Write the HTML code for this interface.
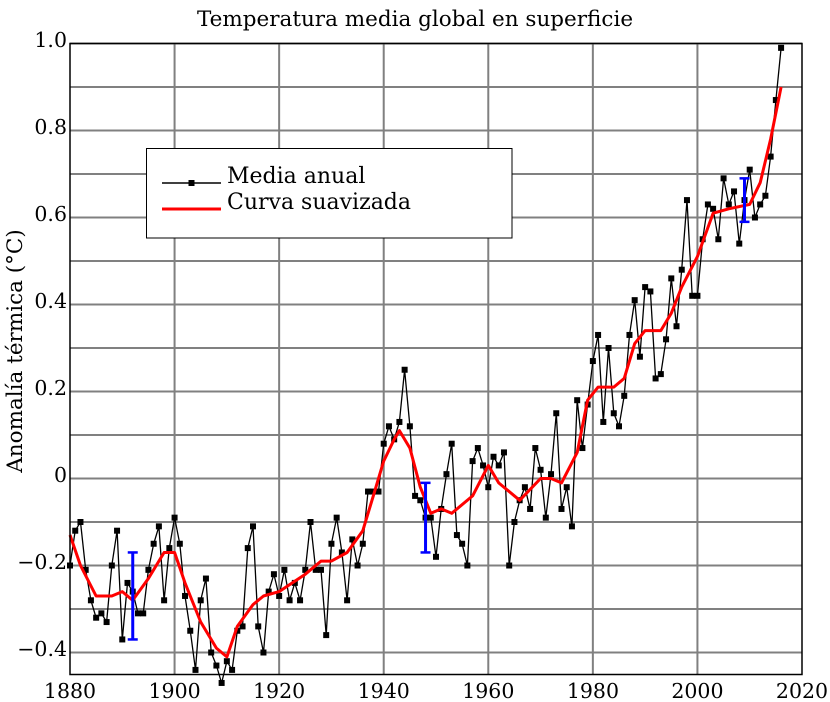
<!DOCTYPE html>
<html><head><meta charset="utf-8"><style>
html,body{margin:0;padding:0;background:#fff;}
svg{display:block;font-family:"DejaVu Serif","Liberation Serif",serif;}
</style></head><body>
<svg id="c" width="830" height="702" xmlns="http://www.w3.org/2000/svg">
<rect width="830" height="702" fill="#fff"/>
<g id="grid" stroke="#808080" stroke-width="2"></g>
<g id="series"></g>
<rect x="70" y="43.5" width="732" height="631" fill="none" stroke="#000" stroke-width="1.5"/>
<text x="415" y="26" font-size="21.5" text-anchor="middle">Temperatura media global en superficie</text>
<g font-size="20.5" text-anchor="end">
<text x="67" y="47">1.0</text>
<text x="67" y="134">0.8</text>
<text x="67" y="221">0.6</text>
<text x="67" y="308">0.4</text>
<text x="67" y="395">0.2</text>
<text x="67" y="482">0</text>
<text x="67" y="569">−0.2</text>
<text x="67" y="656">−0.4</text>
</g>
<g font-size="20.5" text-anchor="middle">
<text x="70" y="698">1880</text>
<text x="174.6" y="698">1900</text>
<text x="279.1" y="698">1920</text>
<text x="383.7" y="698">1940</text>
<text x="488.3" y="698">1960</text>
<text x="592.9" y="698">1980</text>
<text x="697.4" y="698">2000</text>
<text x="802" y="698">2020</text>
</g>
<text transform="translate(22,351) rotate(-90)" font-size="21.5" text-anchor="middle">Anomalía térmica (°C)</text>
<rect x="146.5" y="148.5" width="365.5" height="89.5" fill="#fff" stroke="#000" stroke-width="1"/>
<line x1="162" y1="183" x2="221" y2="183" stroke="#000" stroke-width="1.5"/>
<rect x="188.5" y="180" width="6" height="6" fill="#000"/>
<line x1="162" y1="209" x2="221" y2="209" stroke="#f00" stroke-width="3"/>
<text x="227" y="183" font-size="22">Media anual</text>
<text x="227" y="209" font-size="22">Curva suavizada</text>
</svg>
<script>
var X=function(y){return 70+(y-1880)*732/140;};
var Y=function(v){return 478.5-v*435;};
var ns="http://www.w3.org/2000/svg";
function el(p,t,a){var e=document.createElementNS(ns,t);for(var k in a)e.setAttribute(k,a[k]);p.appendChild(e);return e;}
var g=document.getElementById('grid');
for(var y=1900;y<2020;y+=20)el(g,'line',{x1:X(y),y1:43.5,x2:X(y),y2:674.5});
for(var v=-0.4;v<1.0;v+=0.1){var yy=Y(Math.round(v*10)/10);el(g,'line',{x1:70,y1:yy,x2:802,y2:yy});}
var d=[-0.20,-0.12,-0.10,-0.21,-0.28,-0.32,-0.31,-0.33,-0.20,-0.12,-0.37,-0.24,-0.26,-0.31,-0.31,-0.21,-0.15,-0.11,-0.28,-0.16,-0.09,-0.15,-0.27,-0.35,-0.44,-0.28,-0.23,-0.40,-0.43,-0.47,-0.42,-0.44,-0.35,-0.34,-0.16,-0.11,-0.34,-0.40,-0.26,-0.22,-0.27,-0.21,-0.28,-0.24,-0.28,-0.21,-0.10,-0.21,-0.21,-0.36,-0.15,-0.09,-0.17,-0.28,-0.14,-0.20,-0.15,-0.03,-0.03,-0.03,0.08,0.12,0.09,0.13,0.25,0.12,-0.04,-0.05,-0.09,-0.09,-0.18,-0.07,0.01,0.08,-0.13,-0.15,-0.20,0.04,0.07,0.03,-0.02,0.05,0.03,0.06,-0.20,-0.10,-0.05,-0.02,-0.07,0.07,0.02,-0.09,0.01,0.15,-0.07,-0.02,-0.11,0.18,0.07,0.17,0.27,0.33,0.13,0.30,0.15,0.12,0.19,0.33,0.41,0.28,0.44,0.43,0.23,0.24,0.32,0.46,0.35,0.48,0.64,0.42,0.42,0.55,0.63,0.62,0.55,0.69,0.63,0.66,0.54,0.64,0.71,0.60,0.63,0.65,0.74,0.87,0.99];
var s=document.getElementById('series');
var sm=[[1880,-0.13],[1882,-0.2],[1885,-0.27],[1888,-0.27],[1890,-0.26],[1892,-0.28],[1895,-0.23],[1898,-0.17],[1900,-0.17],[1902,-0.24],[1905,-0.33],[1908,-0.39],[1910,-0.41],[1912,-0.34],[1915,-0.29],[1917,-0.27],[1920,-0.26],[1925,-0.22],[1928,-0.19],[1930,-0.19],[1933,-0.17],[1936,-0.12],[1938,-0.04],[1940,0.04],[1942,0.09],[1943,0.11],[1945,0.07],[1947,-0.02],[1949,-0.08],[1951,-0.07],[1953,-0.08],[1957,-0.04],[1960,0.03],[1962,-0.01],[1966,-0.05],[1970,0.0],[1972,0.0],[1974,-0.01],[1977,0.06],[1979,0.18],[1981,0.21],[1984,0.21],[1986,0.23],[1988,0.31],[1990,0.34],[1993,0.34],[1995,0.38],[1997,0.44],[2000,0.51],[2003,0.61],[2006,0.62],[2010,0.63],[2012,0.68],[2014,0.78],[2016,0.90]];
var p1=d.map(function(v,i){return X(1880+i).toFixed(1)+','+Y(v).toFixed(1);}).join(' ');
el(s,'polyline',{points:p1,fill:'none',stroke:'#000','stroke-width':1.3});
d.forEach(function(v,i){el(s,'rect',{x:X(1880+i)-3,y:Y(v)-3,width:6,height:6,fill:'#000'});});
var p2=sm.map(function(a){return X(a[0]).toFixed(1)+','+Y(a[1]).toFixed(1);}).join(' ');
el(s,'polyline',{points:p2,fill:'none',stroke:'#f00','stroke-width':3,'stroke-linejoin':'round'});
[[1892,-0.17,-0.37],[1948,-0.01,-0.17],[2009,0.69,0.59]].forEach(function(b){var x=X(b[0]);
el(s,'line',{x1:x,y1:Y(b[1]),x2:x,y2:Y(b[2]),stroke:'#00f','stroke-width':3});
el(s,'line',{x1:x-5,y1:Y(b[1]),x2:x+5,y2:Y(b[1]),stroke:'#00f','stroke-width':2.5});
el(s,'line',{x1:x-5,y1:Y(b[2]),x2:x+5,y2:Y(b[2]),stroke:'#00f','stroke-width':2.5});});
</script>
</body></html>
